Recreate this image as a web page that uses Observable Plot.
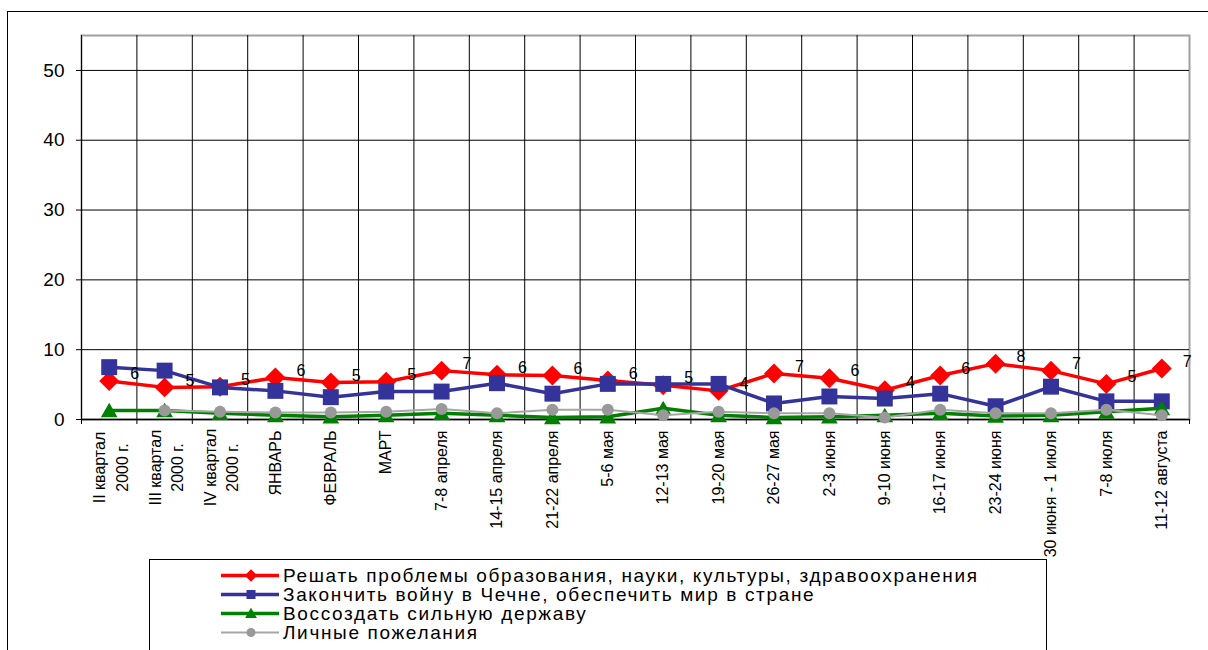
<!DOCTYPE html>
<html>
<head>
<meta charset="utf-8">
<script src="https://cdn.jsdelivr.net/npm/d3@7"></script>
<script src="https://cdn.jsdelivr.net/npm/@observablehq/plot@0.6"></script>
<style>
  body { margin: 0; background: #fff; font-family: "Liberation Sans", Arial, sans-serif; }
  #wrap { position: relative; width: 1208px; height: 650px; overflow: hidden; background: #fff; }
  #chart svg { display: block; }
  #frame { position: absolute; left: 7px; top: 11px; width: 1400px; height: 900px; border: 1px solid #000; pointer-events: none; }
  #legend { position: absolute; left: 149px; top: 559px; width: 898px; height: 200px; border: 1px solid #000; background: #fff; box-sizing: border-box; padding-top: 6px; }
  .row { display: flex; align-items: center; height: 19px; }
  .row svg { margin-left: 71px; flex: none; }
  .row span { margin-left: 4px; font-size: 19px; letter-spacing: 1.65px; white-space: nowrap; color: #000; }
</style>
</head>
<body>
<div id="wrap">
  <div id="chart"></div>
  <div id="legend"></div>
  <div id="frame"></div>
</div>
<script>
// ---- data ----
const categories = [
  "II квартал\n2000 г.", "III квартал\n2000 г.", "IV квартал\n2000 г.",
  "ЯНВАРЬ", "ФЕВРАЛЬ", "МАРТ", "7-8 апреля", "14-15 апреля", "21-22 апреля",
  "5-6 мая", "12-13 мая", "19-20 мая", "26-27 мая", "2-3 июня", "9-10 июня",
  "16-17 июня", "23-24 июня", "30 июня - 1 июля", "7-8 июля", "11-12 августа"
];
const seriesNames = [
  "Решать проблемы образования, науки, культуры, здравоохранения",
  "Закончить войну в Чечне, обеспечить мир в стране",
  "Воссоздать сильную державу",
  "Личные пожелания"
];
const education = [5.5, 4.6, 4.7, 6.0, 5.3, 5.4, 7.0, 6.4, 6.3, 5.6, 4.9, 4.1, 6.6, 5.9, 4.2, 6.3, 8.0, 7.0, 5.1, 7.3];
const educationLabels = [6, 5, 5, 6, 5, 5, 7, 6, 6, 6, 5, 4, 7, 6, 4, 6, 8, 7, 5, 7];
const chechnya = [7.5, 7.0, 4.6, 4.1, 3.2, 4.0, 4.0, 5.2, 3.7, 5.1, 5.1, 5.1, 2.3, 3.3, 3.0, 3.7, 1.9, 4.7, 2.6, 2.6];
const power = [1.3, 1.3, 0.9, 0.6, 0.4, 0.6, 0.9, 0.6, 0.3, 0.4, 1.6, 0.6, 0.3, 0.4, 0.6, 0.9, 0.5, 0.6, 1.1, 1.6];
const personal = [null, 1.3, 1.1, 1.0, 1.0, 1.1, 1.5, 0.9, 1.4, 1.4, 0.6, 1.1, 0.9, 0.9, 0.3, 1.4, 0.9, 0.9, 1.4, 0.6];
const yTicks = [0, 10, 20, 30, 40, 50];
const yMax = 55;

// ---- styles ----
const colors = ["#ff0000", "#333399", "#008000", "#999999"];
const lineColors = ["#ff0000", "#333399", "#008000", "#a6a6a6"];
const symbols = ["diamond2", "square", "triangle", "circle"];

const W = 1208, H = 559, mL = 81, mR = 19, mT = 35, mB = 140;
const half = (W - mL - mR) / categories.length / 2;

const toRows = (vals, labels) => categories.map((c, i) => ({cat: c, v: vals[i], label: labels ? labels[i] : null}));
const eduRows = toRows(education, educationLabels);
const cheRows = toRows(chechnya);
const powRows = toRows(power);
const perRows = toRows(personal);

const singleCats = categories.filter(c => !c.includes("\n"));
const multiCats = categories.filter(c => c.includes("\n"));
const lastCat = categories[categories.length - 1];

const chart = Plot.plot({
  width: W, height: H,
  marginLeft: mL, marginRight: mR, marginTop: mT, marginBottom: mB,
  style: {fontFamily: "'Liberation Sans', Arial, sans-serif", background: "transparent", color: "#000", overflow: "visible"},
  x: {type: "point", domain: categories, padding: 0.5, round: false},
  y: {domain: [0, yMax]},
  marks: [
    Plot.frame({stroke: "#a0a0a0", strokeWidth: 2}),
    Plot.ruleY(yTicks.filter(d => d > 0), {stroke: "#000", strokeWidth: 1}),
    Plot.ruleX(categories, {x: d => d, y1: 0, y2: yMax, dx: -half, stroke: "#000", strokeWidth: 1}),
    Plot.axisX(categories, {tickSize: 5, tickFormat: () => "", dx: -half, label: null}),
    Plot.axisX([lastCat], {tickSize: 5, tickFormat: () => "", dx: half, label: null}),
    Plot.axisY(yTicks, {tickSize: 5, tickPadding: 12, fontSize: 19, label: null}),
    Plot.ruleY([0], {stroke: "#000", strokeWidth: 1.5}),
    // x tick labels
    Plot.text(singleCats, {x: d => d, frameAnchor: "bottom", dy: 11, rotate: -90, textAnchor: "end", lineAnchor: "middle", fontSize: 16}),
    Plot.text(multiCats, {x: d => d, frameAnchor: "bottom", dy: 48, rotate: -90, textAnchor: "middle", lineAnchor: "middle", lineHeight: 1.4, fontSize: 16}),
    // series
    Plot.line(eduRows, {x: "cat", y: "v", stroke: lineColors[0], strokeWidth: 3.5}),
    Plot.dot(eduRows, {x: "cat", y: "v", symbol: symbols[0], r: 9, fill: colors[0], stroke: "none"}),
    Plot.line(cheRows, {x: "cat", y: "v", stroke: lineColors[1], strokeWidth: 3.5}),
    Plot.dot(cheRows, {x: "cat", y: "v", symbol: symbols[1], r: 9, fill: colors[1], stroke: "none"}),
    Plot.line(powRows, {x: "cat", y: "v", stroke: lineColors[2], strokeWidth: 3.5}),
    Plot.dot(powRows, {x: "cat", y: "v", symbol: symbols[2], r: 6.2, dy: 2, fill: colors[2], stroke: "none"}),
    Plot.line(perRows, {x: "cat", y: "v", stroke: lineColors[3], strokeWidth: 2}),
    Plot.dot(perRows, {x: "cat", y: "v", symbol: symbols[3], r: 6, fill: colors[3], stroke: "none"}),
    // data labels
    Plot.text(eduRows, {x: "cat", y: "v", text: "label", dx: 21, dy: -7, textAnchor: "start", fontSize: 16, fill: "#000"})
  ]
});
document.getElementById("chart").appendChild(chart);

// ---- legend ----
const legend = document.getElementById("legend");
const legendSymbols = [d3.symbolDiamond2, d3.symbolSquare, d3.symbolTriangle, d3.symbolCircle];
const legendSizes = [100, 81, 60, 64];
seriesNames.forEach((name, i) => {
  const row = document.createElement("div");
  row.className = "row";
  const svg = d3.create("svg").attr("width", 58).attr("height", 19);
  svg.append("line").attr("x1", 0).attr("x2", 58).attr("y1", 9.5).attr("y2", 9.5)
    .attr("stroke", lineColors[i]).attr("stroke-width", i === 3 ? 2 : 3.5);
  svg.append("path").attr("transform", `translate(30,${i === 2 ? 10.5 : 9.5})`)
    .attr("d", d3.symbol(legendSymbols[i], legendSizes[i])()).attr("fill", colors[i]);
  row.appendChild(svg.node());
  const span = document.createElement("span");
  span.textContent = name;
  row.appendChild(span);
  legend.appendChild(row);
});
</script>
</body>
</html>
